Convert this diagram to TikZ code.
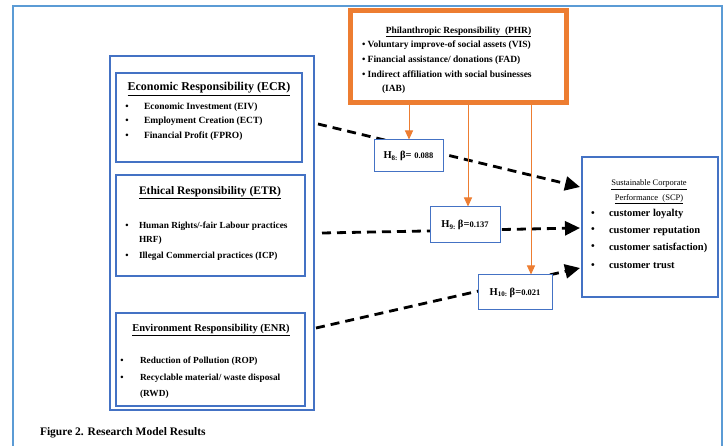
\documentclass[tikz,border=0pt]{standalone}
\usepackage{fontspec}
\setmainfont{Liberation Serif}
\usetikzlibrary{arrows.meta}
\definecolor{bl}{HTML}{4472C4}
\definecolor{lbl}{HTML}{5B9BD5}
\definecolor{org}{HTML}{ED7D31}
\newcommand\fs[1]{\fontsize{#1}{#1}\selectfont}
\newcommand\bitem[6]{%
  \node[txt,font=\bfseries\fs{#6}] (#1b) at (#2,#4) {•};
  \node[txt,anchor=west,font=\bfseries\fs{#6}] (#1) at (#3,#4) {#5};}
\newcommand\hlab[3]{\bfseries\fs{10.5}H\raisebox{-1.5pt}{\fs{7}#1:} β=#2\fs{8.5}#3}
\begin{document}
\begin{tikzpicture}[x=1pt,y=-1pt,
  txt/.style={inner sep=0pt,outer sep=0pt,anchor=center},
  bbox/.style={draw=bl,line width=2.8pt,fill=white,inner sep=0pt},
  hbox/.style={draw=bl,line width=1pt,fill=white,inner sep=0pt},
  dasharrow/.style={line width=2.8pt,dash pattern=on 9pt off 6pt,-{Triangle[length=15pt,width=14pt]}},
  orarrow/.style={draw=org,line width=1pt,-{Triangle[length=9pt,width=8pt]}}]
\useasboundingbox (0,0) rectangle (724,446);
\fill[white] (0,0) rectangle (724,446);
% outer frame
\draw[lbl,line width=2.2pt] (13,447) -- (13,6) -- (722,6) -- (722,447);
% big blue box
\node[draw=bl,line width=2.4pt,minimum width=204pt,minimum height=354pt,inner sep=0pt] (big) at (212,233) {};
% inner boxes
\node[bbox,minimum width=186pt,minimum height=89pt] (ecr) at (209,117.5) {};
\node[bbox,minimum width=189pt,minimum height=101pt] (etr) at (210.5,225.5) {};
\node[bbox,minimum width=189pt,minimum height=93pt] (enr) at (210.5,359.5) {};
% PHR
\node[draw=org,line width=5pt,fill=white,minimum width=216pt,minimum height=92pt,inner sep=0pt] (phr) at (458,57) {};
% SCP
\node[draw=bl,line width=2.8pt,fill=white,minimum width=136pt,minimum height=140pt,inner sep=0pt] (scp) at (650,227) {};
% connector endpoints
\coordinate (s1) at (318,124);
\coordinate (s2) at (322,233);
\coordinate (s3) at (316,328);
\coordinate (t1) at (580,187);
\coordinate (t2) at (580,228);
\coordinate (t3) at (580,268);
\draw[dasharrow] (s1) -- (t1);
\draw[dasharrow] (s2) -- (t2);
\draw[dasharrow] (s3) -- (t3);
% H boxes
\node[hbox,minimum width=69pt,minimum height=32pt] (h8) at (408.5,156) {\hlab{8}{ }{0.088}};
\node[hbox,minimum width=70pt,minimum height=36pt] (h9) at (465,225) {\hlab{9}{}{0.137}};
\node[hbox,minimum width=74pt,minimum height=35pt] (h10) at (515,292.5) {\hlab{10}{}{0.021}};
% orange arrows
\coordinate (o1) at (409,0);
\coordinate (o2) at (468,0);
\coordinate (o3) at (531,0);
\draw[orarrow] (phr.south -| o1) -- (h8.north -| o1);
\draw[orarrow] (phr.south -| o2) -- (h9.north -| o2);
\draw[orarrow] (phr.south -| o3) -- (h10.north -| o3);
% ECR text
\node[txt,font=\bfseries\fs{12}] (ecrt) at (209,89) {\underline{Economic Responsibility (ECR)}};
\bitem{ecr1}{127}{144}{107}{Economic Investment (EIV)}{9.5}
\bitem{ecr2}{127}{144}{121.5}{Employment Creation (ECT)}{9.5}
\bitem{ecr3}{127}{144}{136}{Financial Profit (FPRO)}{9.5}
% ETR text
\node[txt,font=\bfseries\fs{11.5}] (etrt) at (210,193) {\underline{Ethical Responsibility (ETR)}};
\bitem{etr1}{127}{139}{226}{Human Rights/-fair Labour practices}{9.3}
\node[txt,anchor=west,font=\bfseries\fs{9.3}] (etr1b2) at (139,240) {HRF)};
\bitem{etr2}{127}{139}{256}{Illegal Commercial practices (ICP)}{9.3}
% ENR text
\node[txt,font=\bfseries\fs{10.5}] (enrt) at (211,330) {\underline{Environment Responsibility (ENR)}};
\bitem{enr1}{122}{140}{361}{Reduction of Pollution (ROP)}{9.3}
\bitem{enr2}{122}{140}{378}{Recyclable material/ waste disposal}{9.3}
\node[txt,anchor=west,font=\bfseries\fs{9.3}] (enr2b2) at (140,394) {(RWD)};
% PHR text
\node[txt,font=\bfseries\fs{9.4}] (phrt) at (458.5,32) {\underline{Philanthropic Responsibility\ \ (PHR)}};
\node[txt,anchor=west,font=\bfseries\fs{9.5}] (phr1) at (362,45.5) {•\ Voluntary improve-of social assets (VIS)};
\node[txt,anchor=west,font=\bfseries\fs{9.5}] (phr2) at (362,60) {•\ Financial assistance/ donations (FAD)};
\node[txt,anchor=west,font=\bfseries\fs{9.5}] (phr3) at (362,74.5) {•\ Indirect affiliation with social businesses};
\node[txt,anchor=west,font=\bfseries\fs{9.5}] (phr4) at (382,89) {(IAB)};
% SCP text
\node[txt,font=\fs{8.5},align=center] (scpt) at (649,192) {\underline{Sustainable Corporate}\\[4pt]\underline{Performance\ \ (SCP)}};
\bitem{scp1}{593}{609}{214}{customer loyalty}{10.5}
\bitem{scp2}{593}{609}{230.5}{customer reputation}{10.5}
\bitem{scp3}{593}{609}{247.5}{customer satisfaction)}{10.5}
\bitem{scp4}{593}{609}{266}{customer trust}{10.5}
% caption
\node[txt,anchor=west,font=\bfseries\fs{11.5}] (cap) at (40,433) {Figure 2. Research Model Results};
\end{tikzpicture}
\end{document}
